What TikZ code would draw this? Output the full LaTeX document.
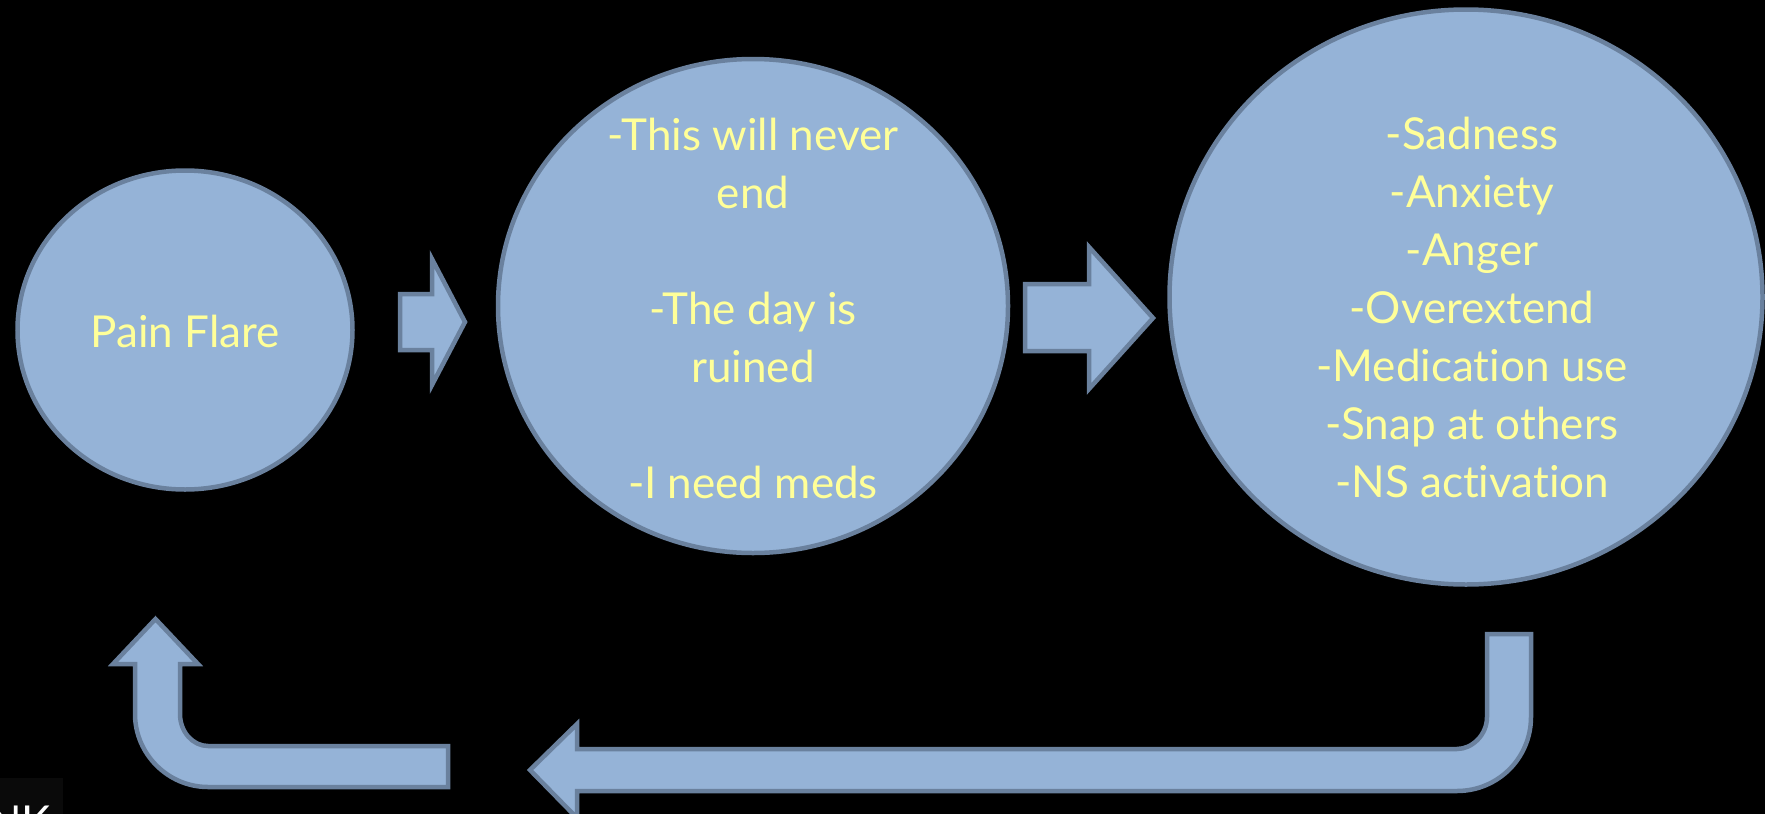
\documentclass[tikz,border=0pt]{standalone}
\usepackage{fontspec}
\setmainfont{Lato}[Ligatures={NoCommon,NoRequired,NoContextual}]
\usetikzlibrary{shapes.geometric}
\definecolor{bfill}{RGB}{149,179,215}
\definecolor{bline}{RGB}{106,129,158}
\definecolor{ytext}{RGB}{255,255,153}
\definecolor{darkbox}{RGB}{10,10,10}
\begin{document}
\begin{tikzpicture}[x=1pt,y=-1pt,
  bubble/.style={ellipse, draw=bline, fill=bfill, line width=4.5pt, inner sep=0pt},
  blockarrow/.style={draw=bline, fill=bfill, line width=4.5pt},
  txt/.style={text=ytext, align=center, font=\fontsize{44}{58}\selectfont, inner sep=0pt}]
\useasboundingbox (0,0) rectangle (1765,814);
\clip (0,0) rectangle (1765,814);
\fill[black] (0,0) rectangle (1765,814);

% circles
\node[bubble, minimum width=335pt, minimum height=319pt] (c1) at (185,330) {};
\node[bubble, minimum width=510pt, minimum height=494pt] (c2) at (753,306) {};
\node[bubble, minimum width=593pt, minimum height=575pt] (c3) at (1466,297) {};

% texts
\node[txt] (t1) at (185,331) {Pain Flare};
\node[txt] (t2) at (753,308) {-This will never\\end\\[58pt]-The day is\\ruined\\[58pt]-I need meds};
\node[txt] (t3) at (1472,307) {-Sadness\\-Anxiety\\-Anger\\-Overextend\\-Medication use\\-Snap at others\\-NS activation};

% right arrows between circles
\draw[blockarrow] (400,294) -- (432,294) -- (432,259) -- (465,322) -- (432,385) -- (432,350) -- (400,350) -- cycle;
\draw[blockarrow] (1025,284) -- (1089,284) -- (1089,247) -- (1153,318) -- (1089,389) -- (1089,351) -- (1025,351) -- cycle;

% bottom long bent arrow (pointing left)
\draw[blockarrow] (1487,634) -- (1531,634) -- (1531,717)
  .. controls (1531,758) and (1498,791) .. (1457,791)
  -- (577,791) -- (577,818) -- (530,770) -- (577,724) -- (577,749) -- (1457,749)
  .. controls (1472,749) and (1487,735) .. (1487,717) -- cycle;

% bottom-left bent arrow (pointing up)
\draw[blockarrow] (448,746) -- (208,746)
  .. controls (193,746) and (180,732) .. (180,714)
  -- (180,664) -- (198,664) -- (155.5,619) -- (113,664) -- (135,664) -- (135,714)
  .. controls (135,754) and (168,787) .. (208,787) -- (448,787) -- cycle;

% partial text at bottom-left corner
\fill[darkbox] (0,778) rectangle (63,814);
\node[text=white, font=\fontsize{44}{52}\selectfont, anchor=base west, inner sep=0pt] (nk) at (-12,837) {NK};
\end{tikzpicture}
\end{document}
